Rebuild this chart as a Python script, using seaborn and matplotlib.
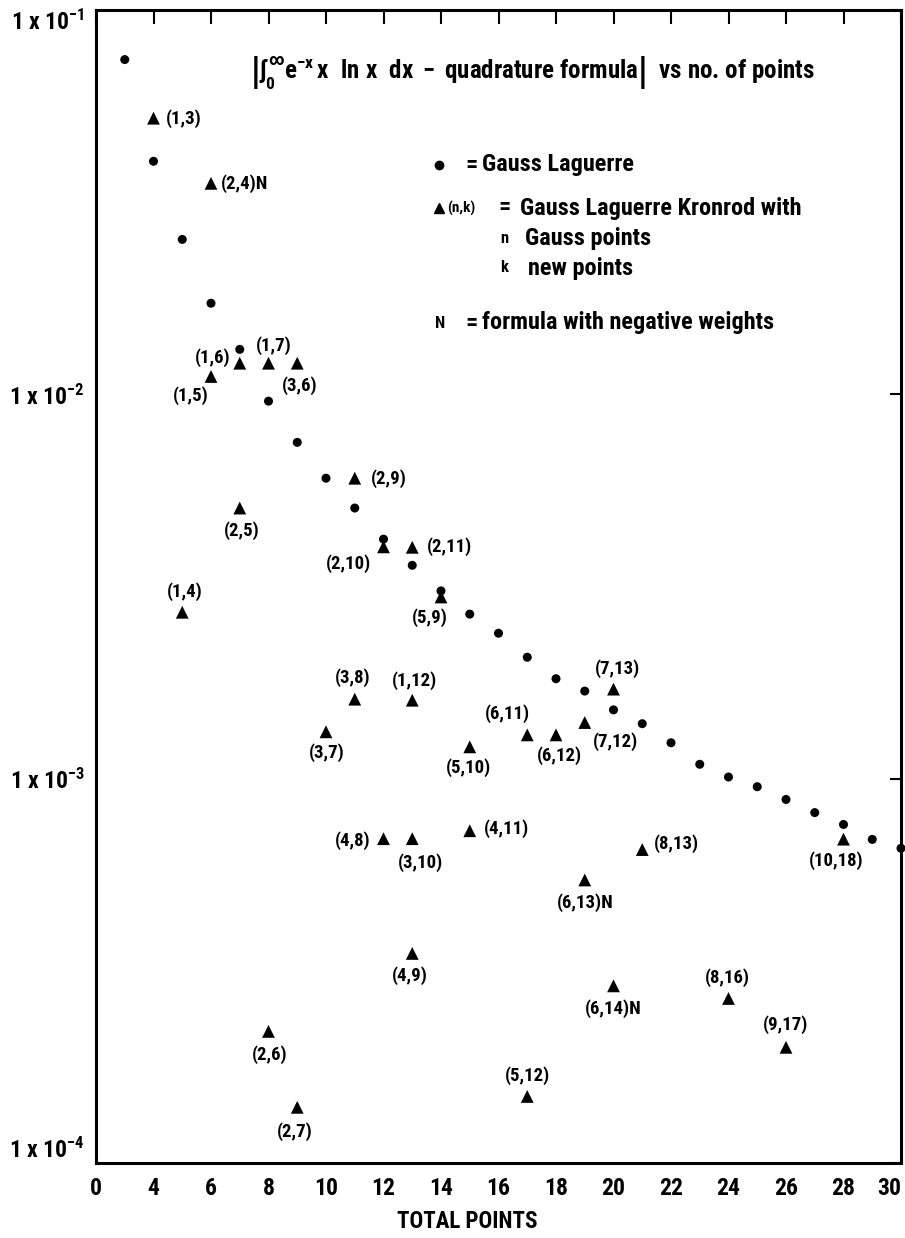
import pandas as pd
import seaborn as sns
import matplotlib.pyplot as plt
import matplotlib.font_manager as fm
from matplotlib.lines import Line2D

# Gauss Laguerre error vs total points
gauss_pts = list(range(3, 31))
gauss_err = [0.0743, 0.0404, 0.0253, 0.01726, 0.01309, 0.0096, 0.0075, 0.00605,
             0.00506, 0.0042, 0.00359, 0.00308, 0.00268, 0.00239, 0.00207, 0.00182,
             0.00169, 0.00151, 0.00139, 0.00124, 0.00109, 0.00101, 0.000953,
             0.000883, 0.000816, 0.00076, 0.000695, 0.000659]

# Gauss Laguerre Kronrod (n, k) error
kron_n = [1, 2, 1, 1, 1, 3, 2, 1, 2, 2, 2, 5, 3, 1, 3, 5, 6, 6, 7, 7, 8, 10,
          4, 3, 4, 6, 4, 6, 8, 9, 2, 2, 5]
kron_k = [3, 4, 5, 6, 7, 6, 5, 4, 9, 10, 11, 9, 8, 12, 7, 10, 11, 12, 12, 13, 13, 18,
          8, 10, 11, 13, 9, 14, 16, 17, 6, 7, 12]
kron_err = [0.0523, 0.0354, 0.01113, 0.01205, 0.01205, 0.01205, 0.00506, 0.00271,
            0.00605, 0.00401, 0.0040, 0.00297, 0.00161, 0.0016, 0.001324, 0.00121,
            0.0013, 0.0013, 0.0014, 0.00171, 0.000654, 0.000696, 0.000698, 0.000698,
            0.000732, 0.000545, 0.000351, 0.000289, 0.000268, 0.0002, 0.00022,
            0.0001396, 0.000149]
negative_weights = [(2, 4), (6, 13), (6, 14)]

# label placement (pixels right, pixels down, alignment)
label_pos = {
    (1, 3): (12, 0, 'left'), (2, 4): (10, 0, 'left'), (1, 5): (-20, 19, 'center'),
    (1, 6): (-9, -6, 'right'), (1, 7): (5, -18, 'center'), (3, 6): (2, 22, 'center'),
    (2, 5): (2, 23, 'center'), (1, 4): (2, -21, 'center'), (2, 9): (16, 0, 'left'),
    (2, 10): (-12, 17, 'right'), (2, 11): (15, -1, 'left'), (5, 9): (-11, 21, 'center'),
    (3, 8): (-2, -22, 'center'), (1, 12): (2, -20, 'center'), (3, 7): (1, 21, 'center'),
    (5, 10): (-1, 21, 'center'), (6, 11): (-20, -21, 'center'), (6, 12): (3, 21, 'center'),
    (7, 12): (31, 19, 'center'), (7, 13): (4, -21, 'center'), (8, 13): (12, -6, 'left'),
    (10, 18): (-7, 21, 'center'), (4, 8): (-13, 2, 'right'), (3, 10): (8, 24, 'center'),
    (4, 11): (14, -2, 'left'), (6, 13): (1, 23, 'center'), (4, 9): (-2, 22, 'center'),
    (6, 14): (0, 23, 'center'), (8, 16): (-1, -21, 'center'), (9, 17): (0, -23, 'center'),
    (2, 6): (1, 23, 'center'), (2, 7): (-2, 24, 'center'), (5, 12): (0, -21, 'center'),
}

# pick a condensed bold sans if one is installed
available = set(f.name for f in fm.fontManager.ttflist)
FONTNAME = 'DejaVu Sans'
for cand in ['Roboto Condensed', 'Archivo Narrow', 'Fira Sans Condensed',
             'Barlow Condensed', 'Liberation Sans Narrow', 'Open Sans']:
    if cand in available:
        FONTNAME = cand
        break

sns.set_style('white')
plt.rcParams['font.family'] = [FONTNAME, 'DejaVu Sans']
plt.rcParams['font.weight'] = 'bold'
plt.rcParams['mathtext.fontset'] = 'custom'
for key in ['rm', 'it', 'bf', 'sf']:
    plt.rcParams[f'mathtext.{key}'] = f'{FONTNAME}:bold'
for key in ['text.color', 'axes.labelcolor', 'xtick.color', 'ytick.color']:
    plt.rcParams[key] = 'black'

W, H = 905, 1238
fig = plt.figure(figsize=(W / 100, H / 100), dpi=100)
ax = fig.add_axes([96 / W, 1 - 1163 / H, (901 - 96) / W, (1163 - 10) / H])

gauss_df = pd.DataFrame({'points': gauss_pts, 'err': gauss_err})
kron_df = pd.DataFrame({'n': kron_n, 'k': kron_k, 'err': kron_err})
kron_df['points'] = kron_df['n'] + kron_df['k']

sns.scatterplot(data=gauss_df, x='points', y='err', marker='o', s=42,
                color='black', edgecolor='none', ax=ax, clip_on=False, zorder=3)
sns.scatterplot(data=kron_df, x='points', y='err', marker='^', s=85,
                color='black', edgecolor='none', ax=ax, clip_on=False, zorder=3)

for _, row in kron_df.iterrows():
    key = (int(row['n']), int(row['k']))
    dx, dy, ha = label_pos[key]
    txt = f'({key[0]},{key[1]})' + ('N' if key in negative_weights else '')
    ax.annotate(txt, (row['points'], row['err']), xytext=(dx * 0.72, -dy * 0.72),
                textcoords='offset points', ha=ha, va='center', fontsize=13.5,
                fontweight='bold')

ax.set_yscale('log')
ax.set_xlim(2, 30)
ax.set_ylim(1e-4, 1e-1)
ax.set_xticks(list(range(2, 31, 2)))
ax.set_xticklabels(['0'] + [str(v) for v in range(4, 31, 2)])
ax.set_yticks([1e-4, 1e-3, 1e-2, 1e-1])
ax.set_yticklabels([r'1 x 10$^{-4}$', r'1 x 10$^{-3}$', r'1 x 10$^{-2}$', r'1 x 10$^{-1}$'])
ax.minorticks_off()
ax.tick_params(axis='x', direction='in', top=True, length=10, width=1.5,
               labelsize=17, pad=10)
ax.tick_params(axis='y', direction='in', right=True, length=8, width=1.5,
               labelsize=17, pad=8)
ylabels = ax.get_yticklabels()
ylabels[0].set_va('bottom')
ylabels[-1].set_va('top')
ax.get_xticklabels()[-1].set_ha('right')
for sp in ax.spines.values():
    sp.set_linewidth(2.2)
    sp.set_color('black')
ax.set_xlabel('TOTAL POINTS', fontsize=16.5, fontweight='bold')
ax.xaxis.set_label_coords((467 - 96) / 805, -(1222 - 1163) / 1153, transform=ax.transAxes)
ax.get_xaxis().label.set_va('center')
ax.set_ylabel('')


def fx(px):
    return px / W


def fy(py):
    return 1 - py / H


fig.text(fx(250), fy(73),
         r'$\left|\int_0^{\infty} \mathrm{e}^{-\mathrm{x}}\,\mathrm{x\ \ ln\ x\ \ dx\ -\ quadrature\ formula}\right|$'
         '  vs no. of points', fontsize=18, va='center', ha='left')

LEG = 17.5
fig.add_artist(Line2D([fx(439)], [fy(165)], marker='o', markersize=6, color='black',
                      linestyle='none'))
fig.text(fx(465), fy(165), '=', fontsize=LEG, va='center')
fig.text(fx(482), fy(165), 'Gauss Laguerre', fontsize=LEG, va='center')
fig.add_artist(Line2D([fx(439)], [fy(208)], marker='^', markersize=7, color='black',
                      linestyle='none'))
fig.text(fx(447), fy(208), '(n,k)', fontsize=11, va='center')
fig.text(fx(498), fy(208), '=', fontsize=LEG, va='center')
fig.text(fx(520), fy(208), 'Gauss Laguerre Kronrod with', fontsize=LEG, va='center')
fig.text(fx(500), fy(238), 'n', fontsize=12, va='center')
fig.text(fx(525), fy(238), 'Gauss points', fontsize=LEG, va='center')
fig.text(fx(500), fy(268), 'k', fontsize=12, va='center')
fig.text(fx(528), fy(268), 'new points', fontsize=LEG, va='center')
fig.text(fx(435), fy(323), 'N', fontsize=12, va='center')
fig.text(fx(465), fy(323), '=', fontsize=LEG, va='center')
fig.text(fx(482), fy(323), 'formula with negative weights', fontsize=LEG, va='center')

fig.savefig('out.png', dpi=100, facecolor='white')
